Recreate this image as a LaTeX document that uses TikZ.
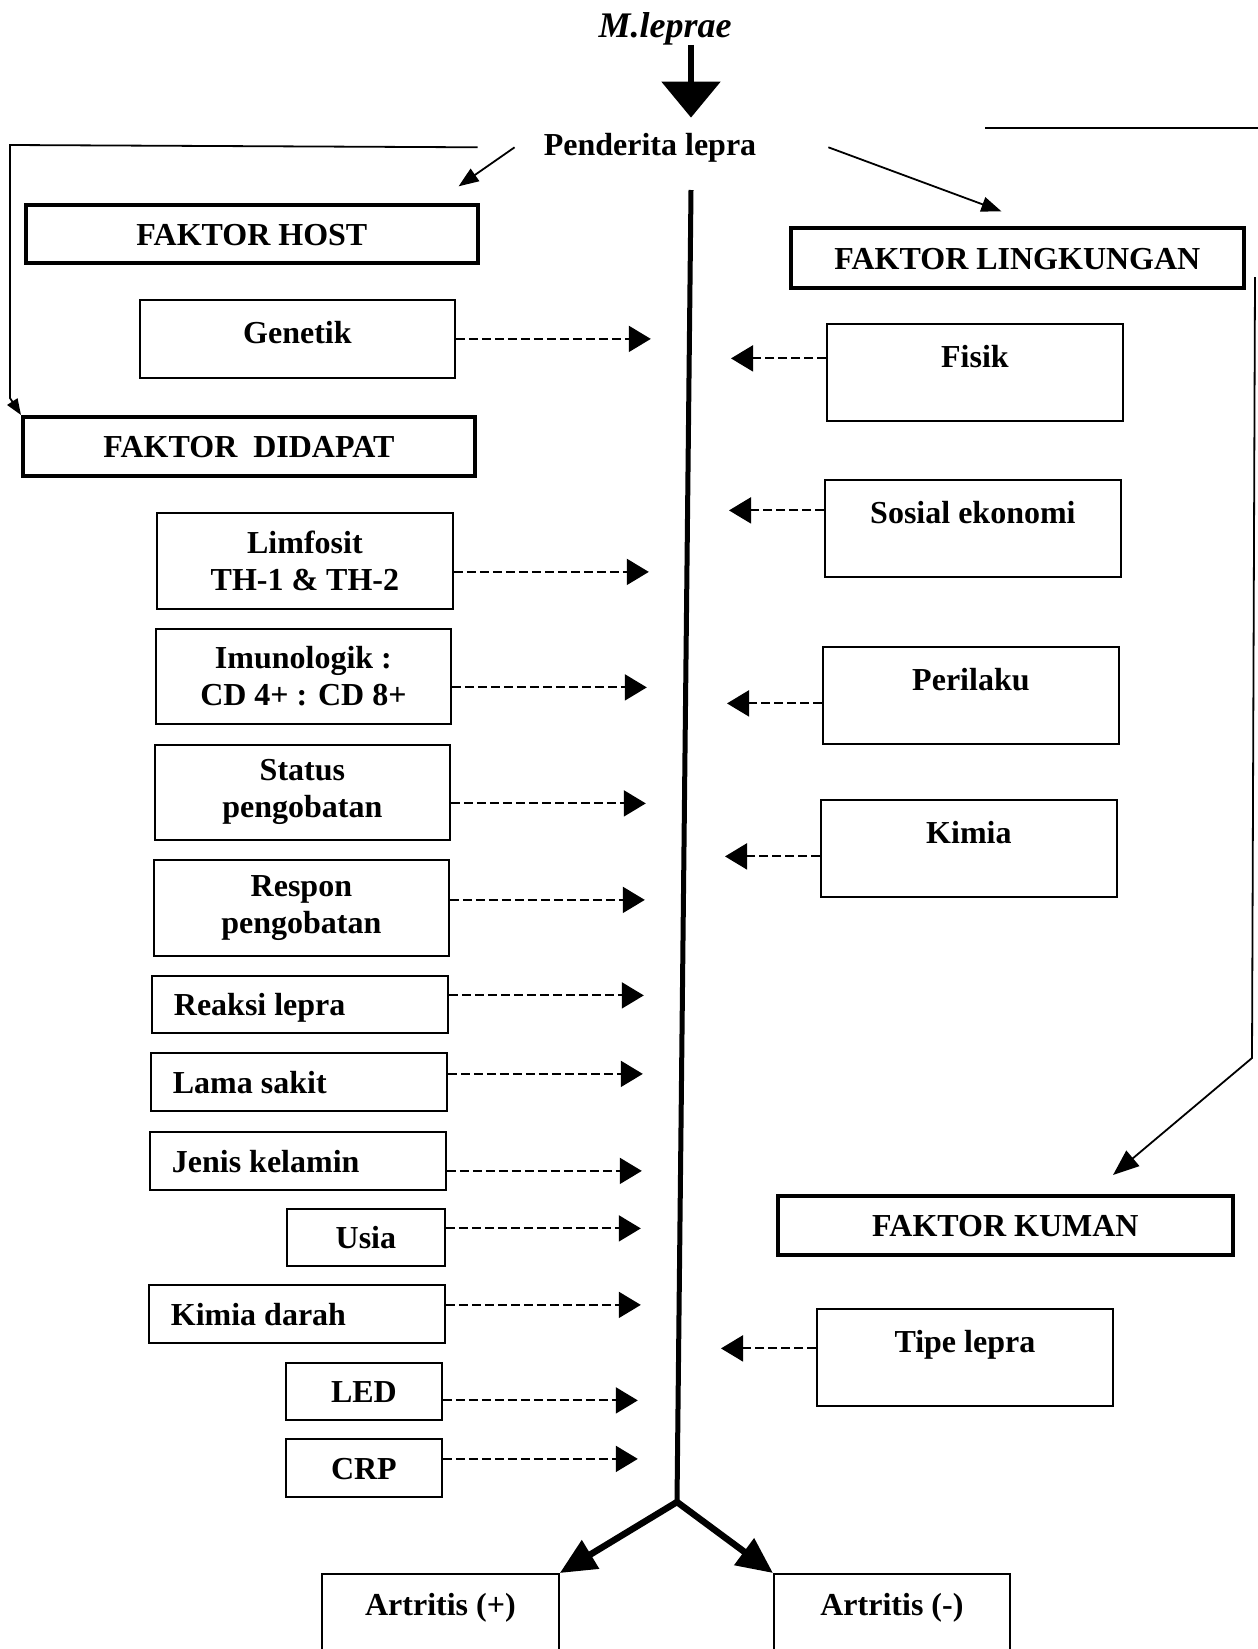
\documentclass[tikz,border=0pt]{standalone}
\usepackage{fontspec}
\setmainfont{Liberation Serif}
\usetikzlibrary{arrows.meta,calc}
\newcommand\bxfont{\fontsize{32}{37}\selectfont\bfseries}
\tikzset{
  fbox/.style={draw,line width=1.8pt,inner sep=0pt,anchor=north west,align=center,font=\bxfont},
  hdr/.style={fbox,line width=3.8pt,text height=31pt,text depth=8pt},
  sbox/.style={fbox,minimum height=57pt,text height=31pt,text depth=8pt},
  lbox/.style={sbox,inner xsep=22pt,text width=252pt,align=flush left},
  rbox/.style={fbox,minimum width=296pt,text height=44pt,text depth=53pt},
  dbox/.style={fbox,minimum width=296pt,minimum height=96pt},
  dasharr/.style={line width=2pt,dash pattern=on 9pt off 4pt,-{Triangle[length=22pt,width=26pt]}},
  thinarr/.style={line width=1.8pt,-{Triangle[length=20pt,width=15pt]}},
  bigarr/.style={line width=6.5pt,-{Triangle[length=36pt,width=32pt]}}
}
\begin{document}
\begin{tikzpicture}[x=1pt,y=-1pt]
  \useasboundingbox (0,0) rectangle (1258,1649);
  \clip (0,0) rectangle (1258,1649);
  \node[anchor=base,inner sep=0pt,font=\fontsize{36}{42}\selectfont\bfseries\itshape] (mlep) at (665,37) {M.leprae};
  \node[anchor=base,inner sep=0pt,font=\bxfont] (pend) at (650,155) {Penderita lepra};
  \coordinate (vtop) at (691,190);
  \coordinate (fork) at (677,1502);
  \draw[line width=6pt,-{Triangle[length=36pt,width=58pt]}] (mlep.south -| vtop) -- ([yshift=15pt]pend.north -| vtop);
  \draw[line width=5pt] (vtop) -- (fork);

  \node[hdr,minimum width=452pt,minimum height=58pt] (host) at (24,203) {FAKTOR HOST};
  \node[fbox,minimum width=315pt,text height=44pt,text depth=34pt] (gen) at (139,299) {Genetik};
  \node[hdr,minimum width=452pt,minimum height=59pt] (didapat) at (21,415) {FAKTOR\ \ DIDAPAT};
  \node[dbox] (lim) at (156,512) {Limfosit\\TH-1 \& TH-2};
  \node[dbox,minimum width=295pt,minimum height=95pt] (imun) at (155,628) {Imunologik :\\CD 4+ : CD 8+};
  \node[dbox,minimum width=295pt,minimum height=95pt] (status) at (154,744) {Status\\pengobatan};
  \node[dbox,minimum width=295pt] (respon) at (153,859) {Respon\\pengobatan};
  \node[lbox] (reaksi) at (151,975) {Reaksi lepra};
  \node[lbox,minimum height=58pt] (lama) at (150,1052) {Lama sakit};
  \node[lbox,minimum height=58pt] (jenis) at (149,1131) {Jenis kelamin};
  \node[sbox,minimum width=158pt] (usia) at (286,1208) {Usia};
  \node[lbox,minimum height=58pt] (kdarah) at (148,1284) {Kimia darah};
  \node[sbox,minimum width=156pt] (led) at (285,1362) {LED};
  \node[sbox,minimum width=156pt,minimum height=58pt] (crp) at (285,1438) {CRP};

  \node[hdr,minimum width=453pt,minimum height=60pt] (lingk) at (789,226) {FAKTOR LINGKUNGAN};
  \node[rbox] (fisik) at (826,323) {Fisik};
  \node[rbox] (sosek) at (824,479) {Sosial ekonomi};
  \node[rbox] (perilaku) at (822,646) {Perilaku};
  \node[rbox] (kimia) at (820,799) {Kimia};
  \node[hdr,minimum width=455pt,minimum height=59pt] (kuman) at (776,1194) {FAKTOR KUMAN};
  \node[rbox] (tipe) at (816,1308) {Tipe lepra};

  \node[fbox,minimum width=237pt,text height=42pt,text depth=78pt] (artp) at (321,1573) {Artritis (+)};
  \node[fbox,minimum width=236pt,text height=42pt,text depth=78pt] (artm) at (773,1573) {Artritis (-)};

  \draw[thinarr] ([xshift=-29pt]pend.west) -- ++(-56,39);
  \draw[thinarr] ([xshift=72pt]pend.east) -- ++(173,64);
  \draw[line width=1.8pt,-{Triangle[length=16pt,width=12pt]}] ([xshift=-66pt]pend.west) -- (10,145) -- (10,398) -- (didapat.north west);
  \coordinate (rtop) at (985,128);
  \coordinate (redge) at (1255,277);
  \coordinate (rbend) at (1252,1058);
  \coordinate (rtip) at (1113,1175);
  \draw[line width=1.8pt] (rtop) -- (1258,128);
  \draw[line width=1.8pt,-{Triangle[length=26pt,width=20pt]}] (redge) -- (rbend) -- (rtip);

  \foreach \b/\dy in {gen/0,lim/11,imun/11,status/11,respon/-8,reaksi/-9,lama/-8,jenis/10,usia/-9,kdarah/-9,led/9,crp/-9}
    \draw[dasharr] ($(\b.east)+(0,\dy)$) -- ++(195,0);
  \foreach \b/\dy in {fisik/-14,sosek/-18,perilaku/8,kimia/8,tipe/-9}
    \draw[dasharr] ($(\b.west)+(0,\dy)$) -- ++(-95,0);

  \draw[bigarr] (fork) -- (artp.north east);
  \draw[bigarr] (fork) -- (artm.north west);
\end{tikzpicture}
\end{document}
